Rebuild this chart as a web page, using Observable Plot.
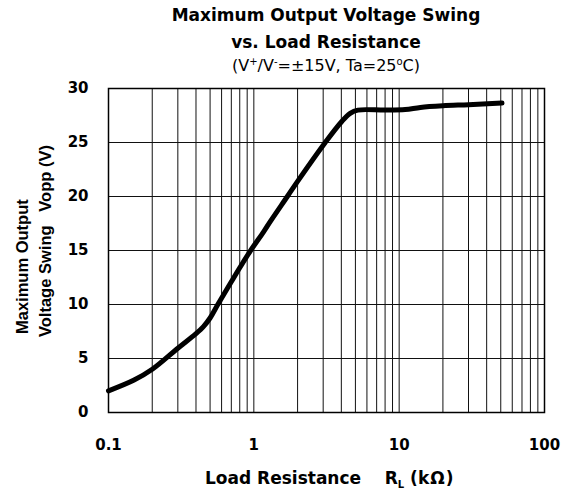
<!DOCTYPE html>
<html>
<head>
<meta charset="utf-8">
<script src="https://cdn.jsdelivr.net/npm/d3@7"></script>
<script src="https://cdn.jsdelivr.net/npm/@observablehq/plot@0.6"></script>
<style>
  html, body { margin: 0; padding: 0; background: #fff; }
  #chart svg text { font-family: "DejaVu Sans", sans-serif; fill: #000; }
</style>
</head>
<body>
<div id="chart"></div>
<script>
// ---- data ----
const loadResistance = [0.1, 0.15, 0.2, 0.3, 0.4, 0.45, 0.5, 0.565, 0.7, 0.8, 0.94, 1.17, 1.3, 1.7, 2, 3.1, 4, 4.6, 5.2, 8, 11, 14, 20, 30, 51];
const outputSwing    = [2.0, 3.0, 4.0, 5.95, 7.3, 7.95, 8.75, 10, 12.1, 13.4, 14.9, 16.75, 17.7, 20.0, 21.4, 25, 26.9, 27.7, 28.0, 28.0, 28.05, 28.25, 28.4, 28.5, 28.65];
const xTickLabels = [0.1, 1, 10, 100];
const yTickLabels = [0, 5, 10, 15, 20, 25, 30];
const xGrid = [0.1,0.2,0.3,0.4,0.5,0.6,0.7,0.8,0.9,1,2,3,4,5,6,7,8,9,10,20,30,40,50,60,70,80,90,100];
const titleLines = ["Maximum Output Voltage Swing", "vs. Load Resistance"];
const yLabelLines = ["Maximum Output", "Voltage Swing   Vopp (V)"];

const data = loadResistance.map((r, i) => ({r, v: outputSwing[i]}));

const W = 569, H = 496;
const chart = Plot.plot({
  width: W,
  height: H,
  marginTop: 88,
  marginLeft: 108,
  marginRight: 25,
  marginBottom: 84,
  style: {background: "#fff", fontFamily: "DejaVu Sans", overflow: "visible"},
  x: {type: "log", domain: [0.1, 100]},
  y: {domain: [0, 30]},
  marks: [
    Plot.ruleX(xGrid, {stroke: "#111", strokeWidth: 1}),
    Plot.ruleY(yTickLabels, {stroke: "#111", strokeWidth: 1}),
    Plot.frame({stroke: "#000", strokeWidth: 1.5}),
    Plot.line(data, {x: "r", y: "v", curve: "catmull-rom", stroke: "#000", strokeWidth: 5, strokeLinecap: "round", strokeLinejoin: "round"}),
    Plot.axisX({ticks: xTickLabels, tickSize: 0, tickPadding: 27, tickFormat: d => String(d), label: null, fontSize: 15, fontWeight: "bold"}),
    Plot.axisY({ticks: yTickLabels, tickSize: 0, tickPadding: 20, label: null, fontSize: 15, fontWeight: "bold"})
  ]
});
document.getElementById("chart").appendChild(chart);

const svg = d3.select(chart);
const cx = (108 + (W - 25)) / 2;

// title
svg.append("text").attr("x", cx).attr("y", 21).attr("text-anchor", "middle")
  .attr("font-size", 17).attr("font-weight", "bold").text(titleLines[0]);
svg.append("text").attr("x", cx).attr("y", 48).attr("text-anchor", "middle")
  .attr("font-size", 17).attr("font-weight", "bold").text(titleLines[1]);
const sub = svg.append("text").attr("x", cx).attr("y", 71).attr("text-anchor", "middle")
  .attr("font-size", 16);
sub.append("tspan").text("(V");
sub.append("tspan").attr("font-size", 10).attr("dy", -6).text("+");
sub.append("tspan").attr("dy", 6).text("/V");
sub.append("tspan").attr("font-size", 10).attr("dy", -6).text("-");
sub.append("tspan").attr("dy", 6).text("=±15V, Ta=25");
sub.append("tspan").attr("font-size", 10).attr("dy", -6).text("o");
sub.append("tspan").attr("dy", 6).text("C)");

// y-axis label (two rotated lines)
svg.append("text").attr("transform", "translate(28,334) rotate(-90)")
  .style("font-family", "'Liberation Sans', Arial, sans-serif")
  .attr("font-size", 16.5).attr("font-weight", "bold").attr("text-anchor", "start").text(yLabelLines[0]);
svg.append("text").attr("transform", "translate(51,337) rotate(-90)")
  .style("font-family", "'Liberation Sans', Arial, sans-serif")
  .attr("font-size", 16.5).attr("font-weight", "bold").attr("text-anchor", "start")
  .style("white-space", "pre").text(yLabelLines[1]);

// x-axis label
const xl = svg.append("text").attr("x", 205).attr("y", 484).attr("font-size", 17).attr("font-weight", "bold")
  .attr("text-anchor", "start").style("white-space", "pre");
xl.append("tspan").text("Load Resistance    R");
xl.append("tspan").attr("font-size", 10).attr("dy", 4).text("L");
xl.append("tspan").attr("dy", -4).text(" (");
xl.append("tspan").attr("letter-spacing", 1).text("kΩ");
xl.append("tspan").text(")");
</script>
</body>
</html>
